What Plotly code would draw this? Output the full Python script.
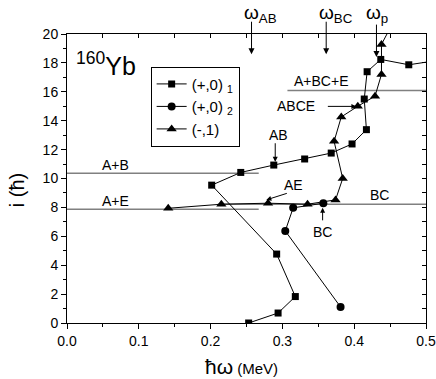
import plotly.graph_objects as go

# ---- data ----
sq_x = [0.253, 0.294, 0.318, 0.292, 0.2015, 0.242, 0.288, 0.331, 0.368, 0.397, 0.417, 0.414, 0.418, 0.437, 0.476, 0.52]
sq_y = [0.0, 0.69, 1.83, 4.77, 9.54, 10.42, 10.93, 11.35, 11.76, 12.39, 13.38, 15.5, 17.39, 18.24, 17.87, 18.2]

circ_x = [0.381, 0.304, 0.315, 0.357]
circ_y = [1.11, 6.37, 7.97, 8.29]

tri_x = [0.141, 0.215, 0.280, 0.335, 0.374, 0.384, 0.372, 0.382, 0.405, 0.429, 0.438, 0.438, 0.452]
tri_y = [7.94, 8.22, 8.29, 8.22, 8.52, 10.0, 12.57, 14.26, 15.0, 15.7, 17.2, 19.28, 20.6]

series_names = ["(+,0) <sub>1</sub>", "(+,0) <sub>2</sub>", "(-,1)"]

# crossing levels (horizontal guide lines): label, y, x-start, x-end
guide_labels = ["A+B", "A+E", "BC", "A+BC+E"]
guide_y = [10.37, 7.87, 8.22, 16.09]
guide_x0 = [0.0, 0.0, 0.21, 0.307]
guide_x1 = [0.267, 0.267, 0.5, 0.5]

# crossing frequencies (top arrows)
freq_labels = ["ω<sub>AB</sub>", "ω<sub>BC</sub>", "ω<sub>p</sub>"]
freq_x = [0.257, 0.361, 0.431]

FONT = "Liberation Sans, Arial, sans-serif"
GRAY = "#808080"

fig = go.Figure()

for lab, yv, x0, x1 in zip(guide_labels, guide_y, guide_x0, guide_x1):
    fig.add_trace(go.Scatter(x=[x0, x1], y=[yv, yv], mode="lines",
                             line=dict(color=GRAY, width=1.5),
                             showlegend=False, hoverinfo="skip"))

fig.add_trace(go.Scatter(x=sq_x, y=sq_y, mode="lines+markers", name=series_names[0],
                         line=dict(color="black", width=1),
                         marker=dict(symbol="square", size=7, color="black")))
fig.add_trace(go.Scatter(x=circ_x, y=circ_y, mode="lines+markers", name=series_names[1],
                         line=dict(color="black", width=1),
                         marker=dict(symbol="circle", size=8, color="black")))
fig.add_trace(go.Scatter(x=tri_x, y=tri_y, mode="lines+markers", name=series_names[2],
                         line=dict(color="black", width=1),
                         marker=dict(symbol="triangle-up", size=9, color="black")))

# invisible trace on mirrored axes (top/right inside ticks)
fig.add_trace(go.Scatter(x=[0, 0.5], y=[0, 20], xaxis="x2", yaxis="y2", mode="markers",
                         marker=dict(opacity=0), showlegend=False, hoverinfo="skip"))

annotations = []
# frequency labels and arrows
freq_text_x = [0.27, 0.375, 0.432]
freq_tip_y = [18.6, 18.6, 18.4]
for lab, fx, tx, ty in zip(freq_labels, freq_x, freq_text_x, freq_tip_y):
    annotations.append(dict(x=fx, y=ty, xref="x", yref="y", text="", showarrow=True,
                            ax=0, ay=-34, arrowhead=2, arrowsize=1.2, arrowwidth=1,
                            arrowcolor="black"))
    annotations.append(dict(x=tx, y=1.07, xref="x", yref="paper", text=lab, showarrow=False,
                            font=dict(family=FONT, size=19, color="black"),
                            xanchor="center", yanchor="middle"))

# guide-line labels
label_pos = {"A+B": (0.068, 10.95), "A+E": (0.068, 8.47), "BC": (0.435, 8.87),
             "A+BC+E": (0.354, 16.74)}
for lab, (lx, ly) in label_pos.items():
    annotations.append(dict(x=lx, y=ly, text=lab, showarrow=False,
                            xanchor="center", yanchor="middle",
                            font=dict(family=FONT, size=14, color="black")))

txt = dict(family=FONT, size=14, color="black")
# pointer labels with arrows
annotations += [
    dict(x=0.294, y=13.03, text="AB", showarrow=False, font=txt),
    dict(x=0.290, y=11.16, text="", showarrow=True, ax=0, ay=-20, arrowhead=2, arrowwidth=1, arrowcolor="black"),
    dict(x=0.315, y=9.54, text="AE", showarrow=False, font=txt),
    dict(x=0.2776, y=8.52, text="", showarrow=True, ax=22, ay=-7, arrowhead=2, arrowwidth=1, arrowcolor="black"),
    dict(x=0.356, y=6.28, text="BC", showarrow=False, font=txt),
    dict(x=0.356, y=7.97, text="", showarrow=True, ax=0, ay=14, arrowhead=2, arrowwidth=1, arrowcolor="black"),
    dict(x=0.319, y=15.0, text="ABCE", showarrow=False, font=txt),
    dict(x=0.403, y=14.99, text="", showarrow=True, ax=-30, ay=0, arrowhead=2, arrowwidth=1, arrowcolor="black"),
]

# nucleus label
annotations.append(dict(x=0.109, y=0.896, xref="paper", yref="paper", text="<sup>160</sup>Yb",
                        showarrow=False, font=dict(family=FONT, size=25, color="black"),
                        xanchor="center", yanchor="middle"))
# axis titles
annotations.append(dict(x=-0.139, y=0.46, xref="paper", yref="paper", text="i (ħ)",
                        textangle=-90, showarrow=False, xanchor="center", yanchor="middle",
                        font=dict(family=FONT, size=20, color="black")))
annotations.append(dict(x=0.485, y=-0.15, xref="paper", yref="paper",
                        text="<span style='font-size:21px'>ħω</span> (MeV)",
                        showarrow=False, xanchor="center", yanchor="middle",
                        font=dict(family=FONT, size=15, color="black")))

axis_common = dict(showline=True, linecolor="black", linewidth=1, showgrid=False,
                   zeroline=False, ticks="outside", ticklen=5, tickcolor="black",
                   automargin=False,
                   tickfont=dict(family=FONT, size=14, color="black"))

fig.update_layout(
    width=436, height=379,
    margin=dict(l=67, r=10, t=34, b=56),
    paper_bgcolor="white", plot_bgcolor="white",
    font=dict(family=FONT, color="black"),
    xaxis=dict(range=[0, 0.5], dtick=0.1, tickformat=".1f",
               minor=dict(dtick=0.05, ticks="outside", ticklen=3, tickcolor="black"),
               **axis_common),
    yaxis=dict(range=[0, 20], dtick=2,
               minor=dict(dtick=1, ticks="outside", ticklen=3, tickcolor="black"),
               **axis_common),
    xaxis2=dict(range=[0, 0.5], overlaying="x", side="top", showline=True, linecolor="black",
                linewidth=1, ticks="inside", ticklen=4, dtick=0.05, tickcolor="black",
                showticklabels=False, showgrid=False, zeroline=False, automargin=False),
    yaxis2=dict(range=[0, 20], overlaying="y", side="right", showline=True, linecolor="black",
                linewidth=1, ticks="inside", ticklen=4, dtick=1, tickcolor="black",
                showticklabels=False, showgrid=False, zeroline=False, automargin=False),
    legend=dict(x=0.233, y=0.887, xanchor="left", yanchor="top",
                bordercolor="black", borderwidth=1, bgcolor="white",
                font=dict(family=FONT, size=15, color="black"),
                itemwidth=30, tracegroupgap=0),
    annotations=annotations,
    showlegend=True,
)

fig.write_html("out.html", config={"displayModeBar": False},
               post_script="document.body.style.margin='0';")
